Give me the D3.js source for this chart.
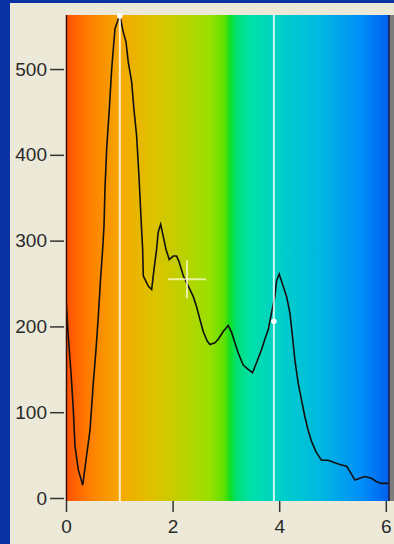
<!DOCTYPE html>
<html>
<head>
<meta charset="utf-8">
<script src="https://cdn.jsdelivr.net/npm/d3@7"></script>
<style>
  html, body { margin: 0; padding: 0; background: #0b33a3; }
  svg { display: block; }
</style>
</head>
<body>
<svg id="chart" width="394" height="544"></svg>
<script>
// spectrum trace
const waveX = [0, 0.043, 0.094, 0.137, 0.169, 0.231, 0.313, 0.375, 0.45, 0.512, 0.563, 0.606, 0.651, 0.688,
  0.713, 0.731, 0.763, 0.812, 0.857, 0.919, 0.981, 1.013, 1.074, 1.125, 1.168, 1.232, 1.275, 1.325, 1.369,
  1.406, 1.438, 1.45, 1.543, 1.607, 1.65, 1.70, 1.73, 1.776, 1.825, 1.875, 1.937, 2.012, 2.076, 2.124, 2.2,
  2.293, 2.387, 2.45, 2.513, 2.574, 2.649, 2.7, 2.794, 2.856, 2.949, 3.043, 3.107, 3.169, 3.231, 3.325,
  3.418, 3.5, 3.576, 3.669, 3.731, 3.793, 3.857, 3.919, 3.95, 4.0, 4.074, 4.138, 4.2, 4.25, 4.294, 4.356,
  4.419, 4.481, 4.543, 4.607, 4.688, 4.794, 4.918, 5.044, 5.138, 5.263, 5.325, 5.419, 5.513, 5.606, 5.732,
  5.825, 5.919, 6.043];
const counts = [232, 188, 146, 103, 60, 33, 15, 44, 79, 134, 173, 212, 258, 290,
  317, 360, 407, 453, 500, 547, 558, 562, 543, 532, 508, 485, 453, 422, 375,
  328, 290, 259, 247, 243, 266, 290, 310, 319, 305, 290, 278, 282, 282, 275, 259,
  247, 235, 223, 208, 194, 183, 179, 181, 185, 194, 201, 193, 181, 169, 155,
  150, 146, 158, 173, 185, 196, 216, 235, 253, 261, 247, 235, 216, 188, 161, 134,
  114, 95, 79, 66, 54, 44, 44, 41, 39, 37, 31, 21, 23, 25, 23,
  19, 17, 17];

// cursor lines and their markers
const cursorX = [1.01, 3.9];
const cursorY = [562, 206];
// crosshair
const crossX = 2.27;
const crossY = 255;

const xTicks = [0, 2, 4, 6];
const yTicks = [0, 100, 200, 300, 400, 500];

const spectrumStops = [
  [0, "#ff5000"], [0.074, "#ff7f00"], [0.167, "#f5a800"], [0.26, "#e0c000"],
  [0.353, "#c0d000"], [0.446, "#98e000"], [0.489, "#60e000"], [0.508, "#10e020"],
  [0.526, "#00e070"], [0.57, "#00e0a8"], [0.663, "#00d0c8"], [0.786, "#00b8e0"],
  [0.91, "#0090f8"], [1, "#0060f0"]
];

const plotLeft = 66, plotRight = 389, plotTop = 15, plotBottom = 498;

const svg = d3.select("#chart");

svg.append("rect").attr("x", 10).attr("y", 3).attr("width", 384).attr("height", 541).attr("fill", "#ece9d8");

const x = d3.scaleLinear().domain([0, 6.06]).range([plotLeft, plotRight]);
const y = d3.scaleLinear().domain([0, 563]).range([plotBottom, plotTop]);

const defs = svg.append("defs");
const grad = defs.append("linearGradient").attr("id", "spec").attr("x1", "0%").attr("x2", "100%");
grad.selectAll("stop").data(spectrumStops).enter().append("stop")
  .attr("offset", d => d[0]).attr("stop-color", d => d[1]);

const plotH = plotBottom + 3 - plotTop;

defs.append("clipPath").attr("id", "plotclip").append("rect")
  .attr("x", plotLeft).attr("y", plotTop).attr("width", plotRight - plotLeft).attr("height", plotH);

svg.append("rect").attr("x", plotLeft).attr("y", plotTop).attr("width", plotRight - plotLeft).attr("height", plotH)
  .attr("fill", "url(#spec)");

// gray strip on the right
svg.append("rect").attr("x", plotRight).attr("y", plotTop).attr("width", 5).attr("height", plotH).attr("fill", "#7d7d7d");
svg.append("line").attr("x1", plotRight).attr("x2", plotRight).attr("y1", plotTop).attr("y2", plotBottom + 3)
  .attr("stroke", "#1a1a40").attr("stroke-width", 1.5);

const pts = waveX.map((d, i) => [d, counts[i]]);
const line = d3.line().x(d => x(d[0])).y(d => y(d[1]));

svg.append("path").datum(pts)
  .attr("clip-path", "url(#plotclip)")
  .attr("d", line)
  .attr("fill", "none")
  .attr("stroke", "#111")
  .attr("stroke-width", 1.6);

// left axis line
svg.append("line").attr("x1", plotLeft + 0.5).attr("x2", plotLeft + 0.5).attr("y1", plotTop).attr("y2", plotBottom + 3)
  .attr("stroke", "#3a0c00").attr("stroke-width", 1.5);

// cursors
svg.selectAll(".cursor").data(cursorX).enter().append("line")
  .attr("x1", d => x(d)).attr("x2", d => x(d))
  .attr("y1", plotTop).attr("y2", plotBottom + 3)
  .attr("stroke", "#ffffff").attr("stroke-opacity", 0.8).attr("stroke-width", 2);

svg.selectAll(".marker").data(cursorX).enter().append("circle")
  .attr("cx", d => x(d)).attr("cy", (d, i) => y(cursorY[i]))
  .attr("r", 2.8).attr("fill", "#ffffff");

// crosshair
const cx = x(crossX), cy = y(crossY);
const ch = svg.append("g").attr("stroke", "#fbfbd8").attr("stroke-opacity", 0.75).attr("stroke-width", 2);
ch.append("line").attr("x1", cx - 19).attr("x2", cx + 19).attr("y1", cy).attr("y2", cy);
ch.append("line").attr("x1", cx).attr("x2", cx).attr("y1", cy - 19).attr("y2", cy + 19);

// axes
const font = "'Liberation Sans', Arial, sans-serif";

const yAxis = svg.append("g").attr("transform", `translate(64,0)`)
  .call(d3.axisLeft(y).tickValues(yTicks).tickSize(14).tickPadding(3));
yAxis.select(".domain").remove();
yAxis.selectAll("line").attr("stroke", "#333").attr("stroke-width", 1.5);
yAxis.selectAll("text").attr("fill", "#2a2a2a").style("font-family", font).style("font-size", "19px");

const xAxis = svg.append("g").attr("transform", `translate(0,${plotBottom + 3})`)
  .call(d3.axisBottom(x).tickValues(xTicks).tickFormat(d3.format("d")).tickSize(11).tickPadding(8));
xAxis.select(".domain").remove();
xAxis.selectAll("line").attr("stroke", "#333").attr("stroke-width", 1.5);
xAxis.selectAll("text").attr("fill", "#2a2a2a").style("font-family", font).style("font-size", "19px");
</script>
</body>
</html>
